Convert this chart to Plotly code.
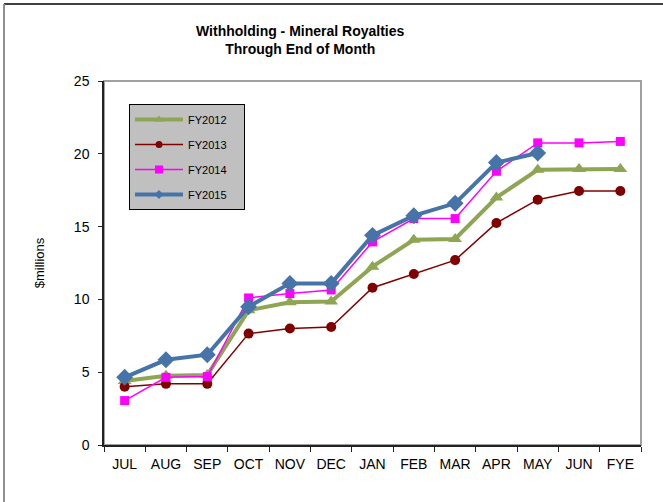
import plotly.graph_objects as go

months = ["JUL", "AUG", "SEP", "OCT", "NOV", "DEC", "JAN", "FEB", "MAR", "APR", "MAY", "JUN", "FYE"]
fy2012 = [4.4, 4.75, 4.8, 9.25, 9.8, 9.85, 12.25, 14.1, 14.15, 17.0, 18.9, 18.95, 18.95]
fy2013 = [4.0, 4.2, 4.2, 7.65, 8.0, 8.1, 10.8, 11.75, 12.7, 15.25, 16.85, 17.45, 17.45]
fy2014 = [3.05, 4.65, 4.7, 10.1, 10.4, 10.65, 13.95, 15.55, 15.55, 18.8, 20.75, 20.75, 20.85]
fy2015 = [4.65, 5.85, 6.2, 9.5, 11.1, 11.1, 14.4, 15.75, 16.6, 19.4, 20.05, None, None]
y_ticks = [0, 5, 10, 15, 20, 25]

W, H = 663, 502
L, R, T, B = 104, 22, 81, 57
pw, ph = W - L - R, H - T - B

def px_x(px):
    return (px - L) / pw

def px_y(py):
    return (H - B - py) / ph

FONT = "Liberation Sans, Arial, sans-serif"

# name, values, colour, line width, symbol, marker size, legend marker size
series = [
    ("FY2012", fy2012, "#8EA553", 4, "triangle-up", 12, 8),
    ("FY2013", fy2013, "#800000", 1.5, "circle", 10, 7),
    ("FY2014", fy2014, "#FF00FF", 1.5, "square", 9, 8),
    ("FY2015", fy2015, "#4674A8", 4, "diamond", 13, 7),
]

fig = go.Figure()
for name, vals, color, lw, sym, ms, lms in series:
    fig.add_trace(go.Scatter(
        x=months, y=vals, name=name, mode="lines+markers",
        line=dict(color=color, width=lw),
        marker=dict(symbol=sym, size=ms, color=color, line=dict(width=0)),
        legendgroup=name, showlegend=False, connectgaps=False,
    ))
    # legend entry with smaller key markers
    fig.add_trace(go.Scatter(
        x=[None], y=[None], name=name + "\u00a0\u00a0\u00a0\u00a0", mode="lines+markers",
        line=dict(color=color, width=lw),
        marker=dict(symbol=sym, size=lms, color=color, line=dict(width=0)),
        legendgroup=name, showlegend=True, hoverinfo="skip",
    ))

fig.update_layout(
    width=W, height=H,
    margin=dict(l=L, r=R, t=T, b=B),
    paper_bgcolor="white", plot_bgcolor="white",
    font=dict(family=FONT, size=13, color="black"),
    showlegend=True,
    legend=dict(
        x=px_x(129), y=px_y(104), xanchor="left", yanchor="top",
        bgcolor="#C0C0C0", bordercolor="black", borderwidth=1,
        font=dict(family=FONT, size=11, color="black"),
        tracegroupgap=6, itemwidth=48,
    ),
    xaxis=dict(
        type="category", range=[-0.5, 12.5],
        showline=True, linecolor="#222222", linewidth=1.5,
        ticks="outside", ticklen=5, tickcolor="#222222", tickson="boundaries",
        showgrid=False, zeroline=False, fixedrange=True,
        tickfont=dict(family=FONT, size=14), ticklabelstandoff=5,
    ),
    yaxis=dict(
        range=[0, 25], tickvals=y_ticks, ticktext=[str(v) for v in y_ticks],
        showline=True, linecolor="#222222", linewidth=1.5,
        ticks="outside", ticklen=4, tickcolor="#222222",
        showgrid=False, zeroline=False, ticklabelstandoff=6,
        tickfont=dict(family=FONT, size=14),
        title=dict(text="$millions", font=dict(family=FONT, size=13), standoff=26),
    ),
    shapes=[
        # gray frame of the plotting area (top and right edges)
        dict(type="rect", xref="paper", yref="paper", x0=0, x1=1, y0=0, y1=1,
             line=dict(color="#A0A0A0", width=2), layer="below"),
        # outer chart border
        dict(type="line", xref="paper", yref="paper",
             x0=px_x(4), x1=px_x(663), y0=px_y(4), y1=px_y(4),
             line=dict(color="black", width=1.5)),
        dict(type="line", xref="paper", yref="paper",
             x0=px_x(4), x1=px_x(4), y0=px_y(4), y1=px_y(502),
             line=dict(color="#909090", width=2)),
    ],
    annotations=[
        dict(text="<b>Withholding - Mineral Royalties<br>Through End of Month</b>",
             xref="paper", yref="paper", x=px_x(300), y=px_y(40),
             xanchor="center", yanchor="middle", showarrow=False,
             font=dict(family=FONT, size=14, color="black")),
    ],
)

fig.write_html("out.html")
